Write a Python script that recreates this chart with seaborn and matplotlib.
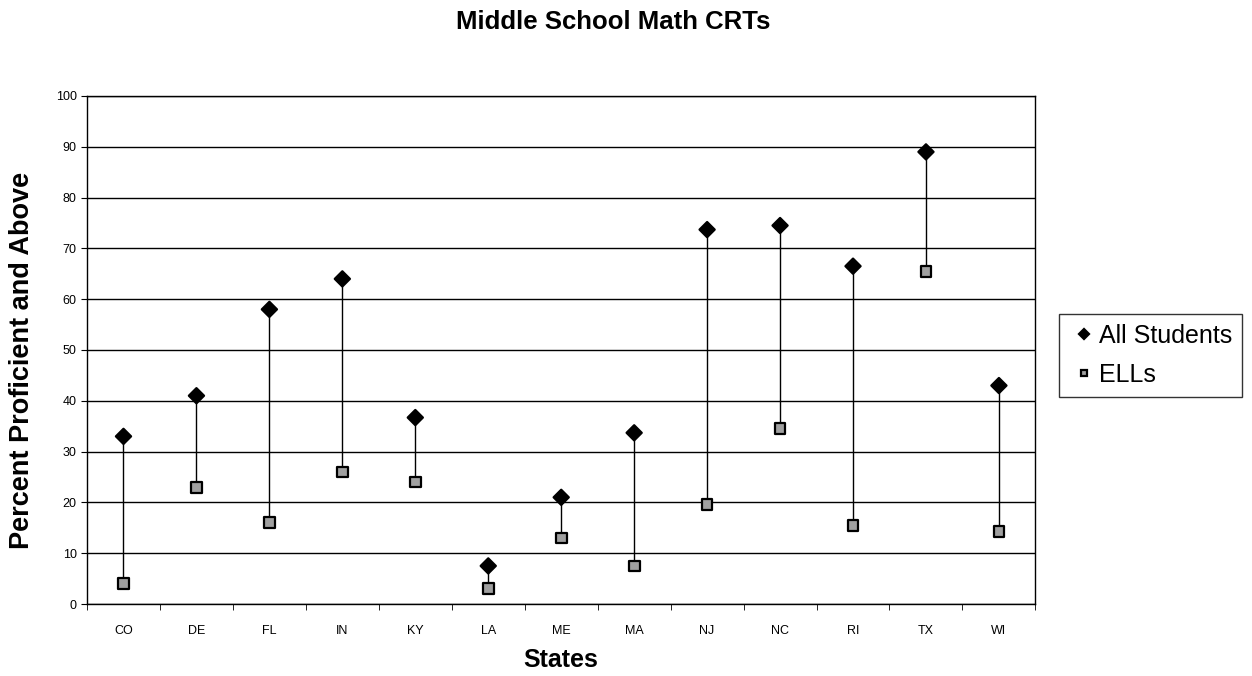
import numpy as np
import pandas as pd
import matplotlib
matplotlib.use("Agg")
import matplotlib.pyplot as plt
import seaborn as sns
from matplotlib.ticker import FixedLocator

states = ["CO", "DE", "FL", "IN", "KY", "LA", "ME", "MA", "NJ", "NC", "RI", "TX", "WI"]
all_students = [33, 41, 58, 64, 36.7, 7.5, 21, 33.7, 73.7, 74.5, 66.5, 89, 43]
ells = [4, 23, 16, 26, 24, 3, 13, 7.5, 19.6, 34.5, 15.5, 65.5, 14.2]

sns.set_style("white")
plt.rcParams['font.family'] = ['Liberation Sans', 'DejaVu Sans']
plt.rcParams['text.color'] = 'black'
plt.rcParams['axes.labelcolor'] = 'black'
plt.rcParams['xtick.color'] = 'black'
plt.rcParams['ytick.color'] = 'black'

# long form table for seaborn
df = pd.DataFrame({
    "State": states * 2,
    "Value": all_students + ells,
    "Series": ["All Students"] * len(states) + ["ELLs"] * len(states),
})

fig = plt.figure(figsize=(12.52, 6.76), dpi=100)
ax = fig.add_axes([0.0695, 0.1065, 0.7575, 0.7515])

# hi-lo lines between the two series
x = np.arange(len(states))
ax.vlines(x, ells, all_students, color="black", linewidth=1, zorder=2)

sns.scatterplot(data=df, x="State", y="Value", hue="Series", style="Series",
                markers={"All Students": "D", "ELLs": "s"},
                palette={"All Students": "black", "ELLs": "#a0a0a0"},
                s=60, edgecolor="black", linewidth=1.6, ax=ax, zorder=3)

ax.set_ylim(0, 100)
ax.set_xlim(-0.5, len(states) - 0.5)
ax.set_yticks(range(0, 101, 10))
ax.yaxis.grid(True, color="black", linewidth=1)
ax.set_axisbelow(True)
for sp in ax.spines.values():
    sp.set_color("black")
    sp.set_linewidth(1)

# excel style tick marks between categories
ax.xaxis.set_minor_locator(FixedLocator(np.arange(-0.5, len(states), 1)))
ax.tick_params(axis="x", which="major", length=0, labelsize=9, pad=15)
ax.tick_params(axis="x", which="minor", length=4, direction="out", color="black")
ax.tick_params(axis="y", length=4, direction="out", color="black", labelsize=9)
ax.tick_params(bottom=True, left=True, which="both")

ax.set_xlabel("States", fontsize=18, fontweight="bold", labelpad=8)
ax.set_ylabel("Percent Proficient and Above", fontsize=19.5, fontweight="bold")
ax.yaxis.set_label_coords(-0.055, 0.48)
fig.text(0.49, 0.967, "Middle School Math CRTs", fontsize=18.5, fontweight="bold",
         ha="center", va="center")

leg = ax.legend(loc="center left", bbox_to_anchor=(1.025, 0.49), fontsize=18,
                frameon=True, fancybox=False, edgecolor="black", borderaxespad=0,
                handletextpad=0.0, borderpad=0.4, labelspacing=0.6,
                markerscale=0.6, handlelength=1.2)
leg.get_frame().set_linewidth(1)

fig.savefig("out.png", dpi=100)
